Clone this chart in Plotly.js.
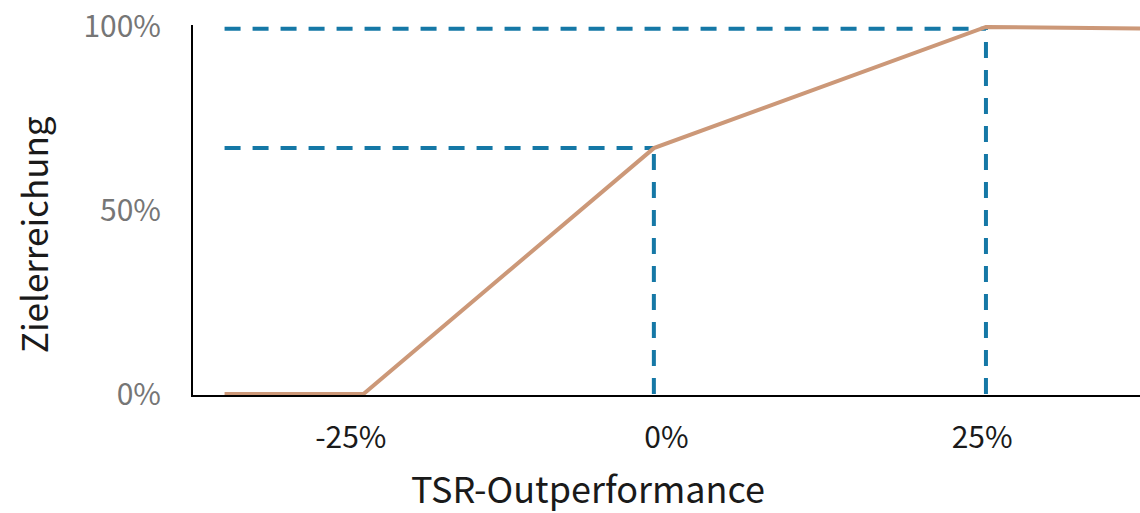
<!DOCTYPE html>
<html>
<head>
<meta charset="utf-8">
<script src="https://cdn.plot.ly/plotly-3.0.1.min.js"></script>
<style>html,body{margin:0;padding:0;background:#fff;}#chart{width:1140px;height:513px;}</style>
</head>
<body>
<div id="chart"></div>
<script>
// Data
const curveX = [-35, -24, -1, 25.3, 37.5];      // TSR-Outperformance (%)
const curveY = [0, 0, 67, 100, 99.6];           // Zielerreichung (%)
const thresholdX = [-1, 25.3];                  // guide-line corners (%)
const thresholdY = [67, 99.5];
const guideStartX = -35;
const xTickVals = [-25, 0, 25];
const xTickText = ['-25%', '0%', '25%'];
const yTickVals = [0, 50, 100];
const yTickText = ['0%', '50%', '100%'];
const xTitle = 'TSR-Outperformance';
const yTitle = 'Zielerreichung';

const FONT = '"Noto Sans CJK JP", "Noto Sans", sans-serif';
const blue = '#1578a6';
const orange = '#cc9878';

const traces = [];
thresholdX.forEach((tx, i) => {
  const ty = thresholdY[i];
  traces.push({x: [guideStartX, tx], y: [ty, ty], mode: 'lines', type: 'scatter',
    line: {color: blue, width: 4, dash: '16px,12px'}, hoverinfo: 'skip', showlegend: false, cliponaxis: false});
  traces.push({x: [tx, tx], y: [0, ty], mode: 'lines', type: 'scatter',
    line: {color: blue, width: 4, dash: '16px,12px'}, hoverinfo: 'skip', showlegend: false, cliponaxis: false});
});
traces.push({x: curveX, y: curveY, mode: 'lines', type: 'scatter',
  line: {color: orange, width: 4}, showlegend: false, cliponaxis: false});

const layout = {
  width: 1140, height: 513,
  margin: {l: 193, r: 0, t: 25, b: 118},
  paper_bgcolor: '#fff', plot_bgcolor: '#fff',
  font: {family: FONT},
  showlegend: false,
  xaxis: {
    range: [-37.5, 37.5], tickvals: xTickVals, ticktext: xTickText,
    showline: true, linecolor: '#000', linewidth: 2, showgrid: false, zeroline: false,
    ticks: '', tickfont: {family: FONT, size: 30, color: '#1a1a1a'}, ticklabelstandoff: 15
  },
  yaxis: {
    range: [-0.27, 100.54], tickvals: yTickVals, ticktext: yTickText,
    showline: true, linecolor: '#000', linewidth: 2, showgrid: false, zeroline: false,
    ticks: '', tickfont: {family: FONT, size: 30, color: '#767676'}, ticklabelstandoff: 24
  },
  annotations: [
    {text: xTitle, xref: 'paper', yref: 'paper', x: 0.417, y: -0.2486, xanchor: 'center', yanchor: 'middle',
     showarrow: false, borderpad: 0, borderwidth: 0, font: {family: FONT, size: 36, color: '#1a1a1a'}},
    {text: yTitle, xref: 'paper', yref: 'paper', x: -0.170, y: 0.432, xanchor: 'center', yanchor: 'middle',
     textangle: -90, showarrow: false, font: {family: FONT, size: 35, color: '#1a1a1a'}}
  ]
};

Plotly.newPlot('chart', traces, layout, {displayModeBar: false, staticPlot: true});
</script>
</body>
</html>
